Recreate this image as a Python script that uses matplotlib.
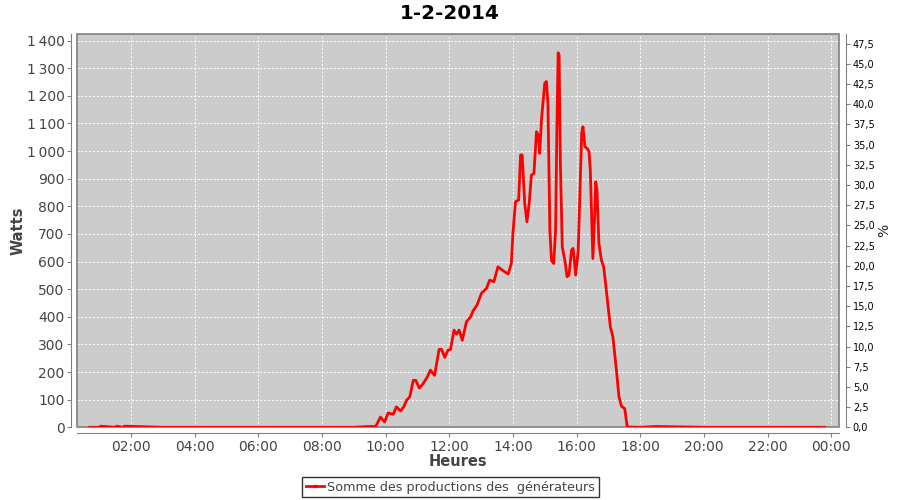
import matplotlib
matplotlib.use("Agg")
import matplotlib.pyplot as plt
from matplotlib.ticker import FuncFormatter, MultipleLocator
from matplotlib.lines import Line2D
from matplotlib.patches import Rectangle

# Données (heures décimales, watts)
heures = [0.71, 1.0, 1.05, 1.5, 1.55, 1.75, 1.8, 3.0, 5.0, 7.0, 8.5, 9.0, 9.5, 9.69,
          9.84, 9.97, 10.08, 10.24, 10.34, 10.47, 10.57, 10.66, 10.76, 10.87, 10.95,
          11.06, 11.18, 11.31, 11.41, 11.54, 11.68, 11.76, 11.86, 11.96, 12.04, 12.15,
          12.23, 12.31, 12.41, 12.54, 12.67, 12.75, 12.87, 13.01, 13.17, 13.27, 13.40,
          13.53, 13.69, 13.85, 13.95, 14.00, 14.08, 14.18, 14.24, 14.29, 14.37, 14.44,
          14.51, 14.58, 14.66, 14.74, 14.79, 14.84, 14.90, 15.00, 15.05, 15.10, 15.16,
          15.21, 15.28, 15.34, 15.38, 15.42, 15.45, 15.49, 15.55, 15.63, 15.70, 15.76,
          15.84, 15.89, 15.97, 16.05, 16.10, 16.16, 16.20, 16.26, 16.33, 16.39, 16.43,
          16.51, 16.57, 16.60, 16.64, 16.70, 16.78, 16.85, 16.91, 16.99, 17.06, 17.14,
          17.25, 17.33, 17.41, 17.51, 17.59, 18.0, 18.5, 20.0, 22.0, 23.79]
watts = [0, 0, 4, 0, 4, 0, 4, 0, 0, 0, 0, 0, 3, 3,
         37, 19, 52, 47, 74, 59, 74, 98, 110, 170, 170,
         142, 158, 182, 207, 188, 282, 282, 253, 279, 282, 352,
         337, 352, 315, 382, 400, 422, 442, 485, 503, 533, 527,
         581, 567, 555, 593, 702, 817, 823, 986, 986, 811, 744,
         811, 913, 919, 1070, 1058, 992, 1119, 1246, 1252, 1173, 714,
         605, 593, 714, 1076, 1356, 1348, 956, 653, 605, 545, 551,
         641, 648, 551, 641, 835, 1065, 1088, 1016, 1010, 998, 932,
         611, 774, 889, 859, 666, 605, 581, 521, 436, 364, 327,
         207, 110, 76, 68, 1, 0, 3, 0, 0, 0]

titre = "1-2-2014"
legende = "Somme des productions des  générateurs"
w_par_pourcent = 29.25
ymax = 1424

fig = plt.figure(figsize=(9, 5), dpi=100)
ax = fig.add_axes([0.0856, 0.1454, 0.8466, 0.7866])
ax.set_facecolor("#cccccc")

ax.plot(heures, watts, color="red", lw=2, solid_joinstyle="round", zorder=5)

ax.set_xlim(0.31, 24.24)
ax.set_ylim(0, ymax)

# axes décalés comme JFreeChart
for s in ["top", "right"]:
    ax.spines[s].set_visible(False)
for s in ["left", "bottom"]:
    ax.spines[s].set_position(("outward", 4))
    ax.spines[s].set_color("#808080")
ax.add_patch(Rectangle((0, 0), 1, 1, transform=ax.transAxes, fill=False,
                       edgecolor="#808080", lw=1.2, clip_on=False, zorder=4))

ax.xaxis.set_major_locator(MultipleLocator(2))
ax.xaxis.set_major_formatter(FuncFormatter(lambda v, p: "%02d:00" % (int(round(v)) % 24)))
ax.yaxis.set_major_locator(MultipleLocator(100))
ax.yaxis.set_major_formatter(FuncFormatter(lambda v, p: "{:,}".format(int(v)).replace(",", "\u2009")))
ax.tick_params(axis="both", labelsize=10, colors="#808080", labelcolor="#444444", length=3, pad=2)
ax.grid(True, color="white", ls=(0, (2, 2)), lw=0.7)

ax.set_xlabel("Heures", fontsize=10.5, fontweight="bold", color="#444444", labelpad=0)
ax.set_ylabel("Watts", fontsize=10.5, fontweight="bold", color="#444444")
ax.yaxis.set_label_coords(-0.067, 0.5)

ax2 = ax.twinx()
ax2.set_ylim(0, ymax / w_par_pourcent)
for s in ["top", "left", "bottom"]:
    ax2.spines[s].set_visible(False)
ax2.spines["right"].set_position(("outward", 5))
ax2.spines["right"].set_color("#808080")
ax2.yaxis.set_major_locator(MultipleLocator(2.5))
ax2.yaxis.set_major_formatter(FuncFormatter(lambda v, p: ("%.1f" % v).replace(".", ",")))
ax2.tick_params(axis="y", labelsize=7, colors="#808080", labelcolor="black", length=3, pad=2)
ax2.set_ylabel("%", fontsize=10, color="#222222", labelpad=2)

fig.suptitle(titre, fontsize=14.3, fontweight="bold", y=0.992)

poignee = Line2D([], [], color="red", lw=2, marker="s", markersize=2)
fig.legend([poignee], [legende], loc="center", bbox_to_anchor=(0.5006, 0.026),
           fontsize=9.2, frameon=True, fancybox=False, edgecolor="black",
           borderpad=0.25, handlelength=1.4, handletextpad=0.3, labelcolor="#444444")

fig.savefig("out.png", dpi=100)
